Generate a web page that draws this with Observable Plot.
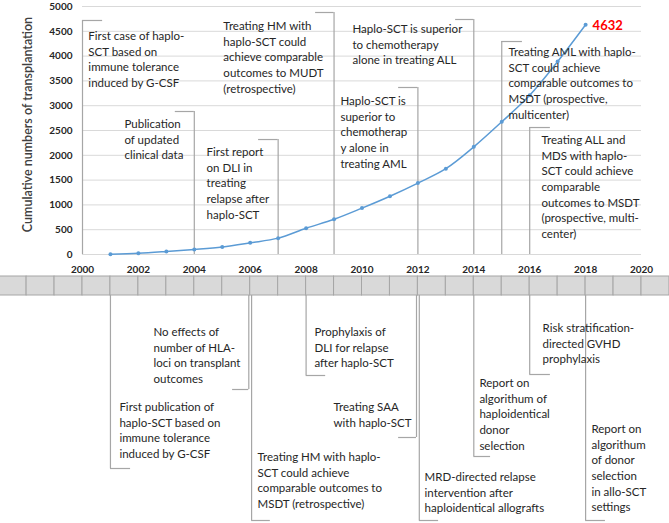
<!DOCTYPE html>
<html>
<head>
<meta charset="utf-8">
<script src="https://cdn.jsdelivr.net/npm/d3@7"></script>
<script src="https://cdn.jsdelivr.net/npm/@observablehq/plot@0.6"></script>
<style>
  html, body { margin: 0; padding: 0; background: #fff; }
  #chart svg { display: block; overflow: visible; }
</style>
</head>
<body>
<div id="chart"></div>
<script>
// ---- data ----
const years = [2001, 2002, 2003, 2004, 2005, 2006, 2007, 2008, 2009, 2010, 2011, 2012, 2013, 2014, 2015, 2016, 2017, 2018];
const cumulative = [5, 25, 60, 100, 150, 235, 330, 530, 710, 935, 1175, 1440, 1730, 2170, 2675, 3210, 3890, 4632];
const xTicks = [2000, 2002, 2004, 2006, 2008, 2010, 2012, 2014, 2016, 2018, 2020];
const yTicks = [0, 500, 1000, 1500, 2000, 2500, 3000, 3500, 4000, 4500, 5000];
const timelineYears = d3.range(1997, 2021);
const yTitle = "Cumulative numbers of transplantation";

// events above the timeline (year of event and text)
const topYears = [2000, 2004, 2007, 2009, 2012, 2014, 2015, 2016];
const topTexts = [
  "First case of haplo-\nSCT based on\nimmune tolerance\ninduced by G-CSF",
  "Publication\nof updated\nclinical data",
  "First report\non DLI in\ntreating\nrelapse after\nhaplo-SCT",
  "Treating HM with\nhaplo-SCT could\nachieve comparable\noutcomes to MUDT\n(retrospective)",
  "Haplo-SCT is\nsuperior to\nchemotherap\ny alone in\ntreating AML",
  "Haplo-SCT is superior\nto chemotherapy\nalone in treating ALL",
  "Treating AML with haplo-\nSCT could achieve\ncomparable outcomes to\nMSDT (prospective,\nmulticenter)",
  "Treating ALL and\nMDS with haplo-\nSCT could achieve\ncomparable\noutcomes to MSDT\n(prospective, multi-\ncenter)"
];
// layout of top callouts (in chart units)
const topLineTop = [4718, 2883, 2318, 4879, 3367, 4738, 4294, 2560];
const topHookTo = [2000.72, 2003.32, 2006.30, 2008.34, 2011.31, 2013.35, 2015.74, 2016.74];
const topTextX = [2000.21, 2001.50, 2004.44, 2005.04, 2009.23, 2009.66, 2015.24, 2016.42];
const topTextY = [4486, 2712, 2147, 4687, 3175, 4627, 4163, 2389];

// events below the timeline
const botYears = [2001, 2005.95, 2006.05, 2008, 2011.95, 2012.05, 2014, 2016, 2018];
const botTexts = [
  "First publication of\nhaplo-SCT based on\nimmune tolerance\ninduced by G-CSF",
  "No effects of\nnumber of HLA-\nloci on transplant\noutcomes",
  "Treating HM with haplo-\nSCT could achieve\ncomparable outcomes to\nMSDT (retrospective)",
  "Prophylaxis of\nDLI for relapse\nafter haplo-SCT",
  "Treating SAA\nwith haplo-SCT",
  "MRD-directed relapse\nintervention after\nhaploidentical allografts",
  "Report on\nalgorithum of\nhaploidentical\ndonor\nselection",
  "Risk stratification-\ndirected GVHD\nprophylaxis",
  "Report on\nalgorithum\nof donor\nselection\nin allo-SCT\nsettings"
];
// layout of bottom callouts (depth below the timeline bar top)
const botLineEnd = [192, 113, 244, 99, 161, 244, 180, 98, 244];
const botHookTo = [2001.72, 2005.37, 2006.72, 2008.7, 2011.31, 2012.74, 2014.6, 2016.74, 2018.71];
const botTextX = [2001.32, 2002.54, 2006.26, 2008.3, 2008.98, 2012.24, 2014.2, 2016.46, 2018.21];
const botTextY = [126.5, 51.5, 176.5, 51.5, 126.5, 196.5, 102.5, 47.5, 148.5];

// ---- build tables ----
const series = years.map((y, i) => ({year: y, value: cumulative[i]}));
const topAnn = topYears.map((y, i) => ({year: y, top: topLineTop[i], hook: topHookTo[i], tx: topTextX[i], ty: topTextY[i], text: topTexts[i]}));
const botAnn = botYears.map((y, i) => ({year: y, end: botLineEnd[i], hook: botHookTo[i], tx: botTextX[i], ty: botTextY[i], text: botTexts[i]}));
const cells = timelineYears.map(y => ({x1: y, x2: y + 1}));
const lastPoint = series[series.length - 1];

const FONT = "Lato, 'Open Sans', sans-serif";
const lineCol = "#a6a6a6";
const textCol = "#262626";
const blue = "#5b9bd5";

const chartTop = Plot.plot({
  width: 669, height: 276,
  marginTop: 6, marginBottom: 22, marginLeft: 82, marginRight: 28,
  style: {fontFamily: FONT, color: "#262626", background: "transparent", overflow: "visible"},
  x: {domain: [2000, 2020]},
  y: {domain: [0, 5000]},
  marks: [
    Plot.ruleY(yTicks, {stroke: "#d9d9d9", strokeWidth: 1}),
    Plot.axisY({ticks: yTicks, tickSize: 0, tickPadding: 10, tickFormat: d3.format("d"), fontWeight: "bold", fontSize: 10, label: null}),
    Plot.axisX({ticks: xTicks, tickSize: 0, tickPadding: 11, tickFormat: d3.format("d"), fontWeight: "bold", fontSize: 10, label: null}),
    Plot.text([yTitle], {frameAnchor: "left", textAnchor: "middle", rotate: -90, dx: -55, dy: -6, fontSize: 12.5, fill: "#404040", fontWeight: "600"}),
    Plot.ruleX(topAnn, {x: "year", y1: 0, y2: "top", stroke: lineCol, strokeWidth: 1.2}),
    Plot.ruleY(topAnn, {y: "top", x1: "year", x2: "hook", stroke: lineCol, strokeWidth: 1.2}),
    Plot.line(series, {x: "year", y: "value", stroke: blue, strokeWidth: 1.5, curve: "catmull-rom"}),
    Plot.dot(series, {x: "year", y: "value", r: 2, fill: blue, stroke: null}),
    Plot.text([lastPoint], {x: "year", y: "value", text: d => String(d.value), textAnchor: "start", dx: 7, dy: 1, fill: "#ff0000", fontWeight: "bold", fontSize: 13}),
    Plot.text(topAnn, {x: "tx", y: "ty", text: "text", textAnchor: "start", lineAnchor: "top", lineHeight: 1.36, fontSize: 11.5, dy: -3, fill: textCol})
  ]
});

const chartBottom = Plot.plot({
  width: 669, height: 247,
  marginTop: 0, marginBottom: 0, marginLeft: 82, marginRight: 28,
  style: {fontFamily: FONT, color: "#262626", background: "transparent"},
  x: {domain: [2000, 2020], axis: null},
  y: {domain: [0, 247], reverse: true, axis: null},
  marks: [
    Plot.rect(cells, {x1: "x1", x2: "x2", y1: 0, y2: 19, fill: "#d9d9d9", stroke: "#a6a6a6", strokeWidth: 1}),
    Plot.ruleX(botAnn, {x: "year", y1: 19, y2: "end", stroke: lineCol, strokeWidth: 1.2}),
    Plot.ruleY(botAnn, {y: "end", x1: "year", x2: "hook", stroke: lineCol, strokeWidth: 1.2}),
    Plot.text(botAnn, {x: "tx", y: "ty", text: "text", textAnchor: "start", lineAnchor: "top", lineHeight: 1.36, fontSize: 11.5, dy: -3, fill: textCol})
  ]
});

const el = document.getElementById("chart");
el.appendChild(chartTop);
el.appendChild(chartBottom);
</script>
</body>
</html>
